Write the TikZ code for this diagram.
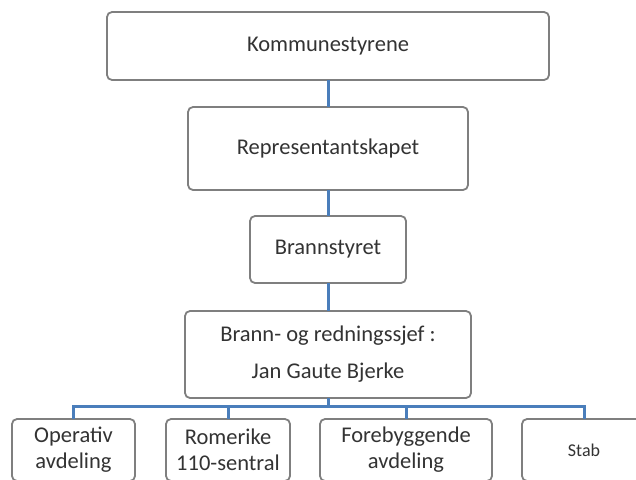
\documentclass[tikz,border=0pt]{standalone}
\usepackage{fontspec}
\setmainfont{Carlito}
\usetikzlibrary{positioning}
\definecolor{orgblue}{HTML}{4A7EBB}
\definecolor{orggrey}{HTML}{7F7F7F}
\begin{document}
\begin{tikzpicture}[x=1pt,y=1pt]
  \tikzset{box/.style={draw=orggrey, line width=1.8pt, rounded corners=5pt, fill=white, inner sep=0pt, outer sep=0pt, align=center, text=black!80, font=\fontsize{22.5}{26}\selectfont}};
  \tikzset{link/.style={orgblue, line width=3pt}};
  \clip (0,0) rectangle (636,-479);

  \node[box, minimum width=442pt, minimum height=68pt] (kom) at (328,-46) {Kommunestyrene};
  \node[box, minimum width=280pt, minimum height=83pt, below=27pt of kom] (rep) {Representantskapet};
  \node[box, minimum width=156pt, minimum height=67pt, below=26pt of rep] (bran) {Brannstyret};
  \node[box, minimum width=286pt, minimum height=87pt, below=28pt of bran] (chief) {Brann- og redningssjef :\\[11pt]Jan Gaute Bjerke};

  \node[box, minimum width=123pt, minimum height=62pt, anchor=north] (op) at (73.5,-419) {Operativ\\avdeling};
  \node[box, minimum width=124pt, minimum height=62pt, anchor=north] (rom) at (228,-419) {Romerike\\110-sentral};
  \node[box, minimum width=172pt, minimum height=62pt, anchor=north] (fore) at (406,-419) {Forebyggende\\avdeling};
  \node[box, minimum width=124pt, minimum height=62pt, anchor=north, font=\fontsize{18}{22}\selectfont] (stab) at (584,-419) {Stab};

  \draw[link] (kom) -- (rep);
  \draw[link] (rep) -- (bran);
  \draw[link] (bran) -- (chief);
  \foreach \n in {op,rom,fore,stab}
    \draw[link] (chief.south) -- ++(0,-8) -| (\n.north);

\end{tikzpicture}
\end{document}
